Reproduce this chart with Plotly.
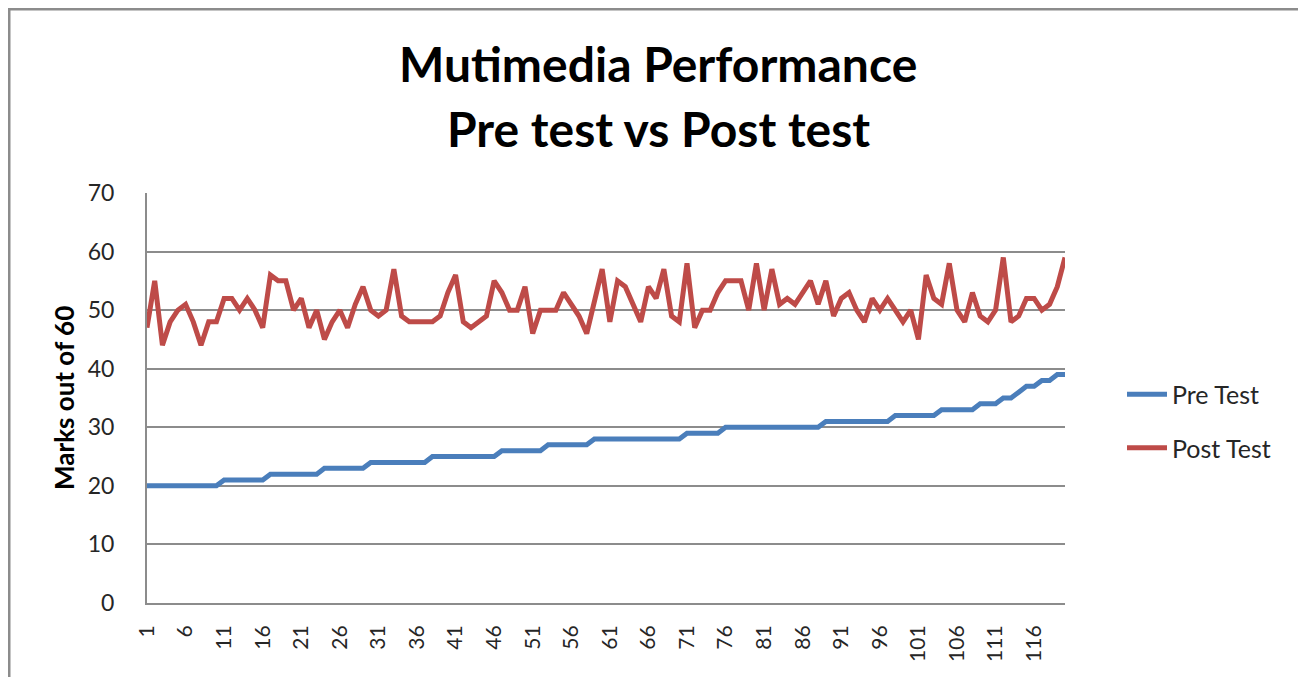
import plotly.graph_objects as go

students = list(range(1, 121))

pre_test = (
    [20] * 10 + [21] * 6 + [22] * 7 + [23] * 6 + [24] * 8 + [25] * 9 +
    [26] * 6 + [27] * 6 + [28] * 12 + [29] * 5 + [30] * 13 + [31] * 9 +
    [32] * 6 + [33] * 5 + [34] * 3 + [35] * 2 + [36] * 1 + [37] * 2 +
    [38] * 2 + [39] * 2
)

post_test = [
    47, 55, 44, 48, 50, 51, 48, 44, 48, 48,
    52, 52, 50, 52, 50, 47, 56, 55, 55, 50,
    52, 47, 50, 45, 48, 50, 47, 51, 54, 50,
    49, 50, 57, 49, 48, 48, 48, 48, 49, 53,
    56, 48, 47, 48, 49, 55, 53, 50, 50, 54,
    46, 50, 50, 50, 53, 51, 49, 46, 52, 57,
    48, 55, 54, 51, 48, 54, 52, 57, 49, 48,
    58, 47, 50, 50, 53, 55, 55, 55, 50, 58,
    50, 57, 51, 52, 51, 53, 55, 51, 55, 49,
    52, 53, 50, 48, 52, 50, 52, 50, 48, 50,
    45, 56, 52, 51, 58, 50, 48, 53, 49, 48,
    50, 59, 48, 49, 52, 52, 50, 51, 54, 59,
]

x_ticks = list(range(1, 120, 5))
y_ticks = list(range(0, 71, 10))

FONT = "Lato"
OFF = 8  # page body margin
W, H = 1306, 677
L, R, T, B = 147, 1065, 193, 603
pw, ph = R - L, B - T

def px(x):
    return (x - L) / pw

def py(y):
    return (B - y) / ph

fig = go.Figure()
fig.add_trace(go.Scatter(x=students, y=pre_test, mode="lines", name="Pre Test",
                         legendgroup="pre",
                         line=dict(color="#4A7EBB", width=5)))
fig.add_trace(go.Scatter(x=students, y=post_test, mode="lines", name="Post Test",
                         legendgroup="post",
                         line=dict(color="#BE4B48", width=5)))

fig.update_layout(
    width=W, height=H,
    margin=dict(l=L - OFF, r=W - R + OFF, t=T - OFF, b=H - B + OFF),
    paper_bgcolor="white", plot_bgcolor="white",
    font=dict(family=FONT, color="#262626"),
    showlegend=True,
    legend=dict(x=px(1122), y=py(421), xanchor="left", yanchor="middle",
                font=dict(size=25, family=FONT, color="#262626"),
                bgcolor="rgba(0,0,0,0)", itemwidth=40, tracegroupgap=18),
    xaxis=dict(range=[1, 120], tickmode="array", tickvals=x_ticks,
               ticktext=[str(v) for v in x_ticks], tickangle=-90,
               tickfont=dict(size=21, family=FONT, color="#262626"),
               showgrid=False, zeroline=False, showline=True,
               linecolor="#8C8C8C", linewidth=2, ticks="", ticklen=0,
               ticklabelstandoff=12),
    yaxis=dict(range=[0, 70], tickmode="array", tickvals=y_ticks,
               tickfont=dict(size=23, family=FONT, color="#262626"),
               showgrid=True, gridcolor="#8C8C8C", gridwidth=2,
               zeroline=False, showline=True, linecolor="#8C8C8C",
               linewidth=2, ticks="", ticklen=0, ticklabelstandoff=26),
    annotations=[
        dict(text="<b>Mutimedia Performance</b>", x=px(658), y=py(64),
             xref="paper", yref="paper", showarrow=False,
             font=dict(size=48, family=FONT, color="black"),
             xanchor="center", yanchor="middle"),
        dict(text="<b>Pre test vs Post test</b>", x=px(658), y=py(128),
             xref="paper", yref="paper", showarrow=False,
             font=dict(size=48, family=FONT, color="black"),
             xanchor="center", yanchor="middle"),
        dict(text="<b>Marks out of 60</b>", x=px(64), y=py(398),
             xref="paper", yref="paper", showarrow=False, textangle=-90,
             font=dict(size=26, family=FONT, color="black"),
             xanchor="center", yanchor="middle"),
    ],
    shapes=[
        dict(type="rect", xref="paper", yref="paper",
             x0=px(9), x1=px(1302), y0=py(700), y1=py(9),
             line=dict(color="#8C8C8C", width=3), fillcolor="rgba(0,0,0,0)",
             layer="below"),
    ],
)

fig.write_html("out.html")
